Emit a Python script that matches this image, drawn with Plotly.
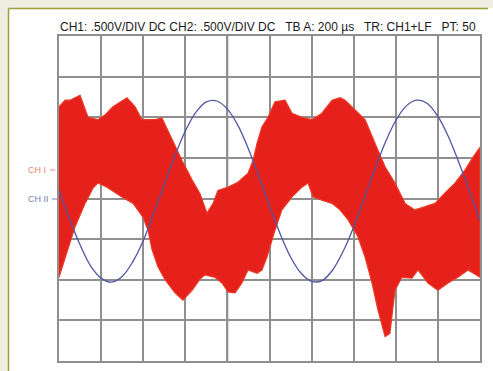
import plotly.graph_objects as go

# Oscilloscope capture: time in microseconds (200 us/div), amplitude in volts (0.5 V/div)

# CH2 - reference sine, sampled every 50 us
ch2_time = [0, 50, 100, 150, 200, 250, 300, 350, 400, 450, 500, 550, 600, 650, 700,
            750, 800, 850, 900, 950, 1000, 1050, 1100, 1150, 1200, 1250, 1300, 1350,
            1400, 1450, 1500, 1550, 1600, 1650, 1700, 1750, 1800, 1850, 1900, 1950, 2000]
ch2_volts = [0.10, -0.25, -0.57, -0.83, -0.98, -1.03, -0.96, -0.78, -0.52, -0.18, 0.17,
             0.52, 0.83, 1.06, 1.19, 1.20, 1.10, 0.90, 0.61, 0.27, -0.09, -0.43, -0.72,
             -0.92, -1.02, -1.01, -0.88, -0.65, -0.35, 0.00, 0.36, 0.69, 0.96, 1.14, 1.21,
             1.17, 1.01, 0.76, 0.44, 0.09, -0.27]

# CH1 - modulated carrier, drawn as its upper and lower envelope
ch1_upper_time = [0, 29, 52, 100, 138, 185, 219, 256, 323, 361, 394, 456, 489, 537, 584,
                  632, 670, 703, 732, 755, 803, 850, 898, 922, 941, 964, 993, 1026, 1074,
                  1107, 1154, 1202, 1249, 1297, 1335, 1359, 1406, 1454, 1501, 1549, 1596,
                  1644, 1691, 1739, 1786, 1834, 1881, 1929, 1967, 2000]
ch1_upper_volts = [1.13, 1.21, 1.21, 1.27, 1.00, 0.97, 1.03, 1.13, 1.24, 1.13, 0.97, 0.97,
                   0.99, 0.72, 0.47, 0.23, 0.06, -0.18, -0.06, 0.10, 0.14, 0.20, 0.31, 0.47,
                   0.68, 0.88, 1.00, 1.19, 1.21, 1.05, 1.00, 0.97, 1.05, 1.21, 1.24, 1.21,
                   1.09, 0.97, 0.68, 0.39, 0.19, -0.06, -0.14, -0.10, -0.06, 0.07, 0.19,
                   0.35, 0.51, 0.63]
ch1_lower_time = [0, 29, 76, 124, 162, 185, 228, 299, 352, 399, 423, 442, 470, 504, 551,
                  589, 632, 670, 694, 741, 774, 803, 836, 869, 898, 941, 964, 988, 1026,
                  1059, 1107, 1154, 1183, 1207, 1249, 1297, 1335, 1373, 1420, 1454, 1487,
                  1515, 1549, 1572, 1596, 1629, 1677, 1705, 1753, 1800, 1848, 1895, 1943, 2000]
ch1_lower_volts = [-0.97, -0.72, -0.35, -0.06, 0.13, 0.19, 0.14, 0.02, -0.06, -0.23, -0.39,
                   -0.63, -0.84, -1.00, -1.16, -1.25, -1.13, -0.99, -0.94, -0.97, -1.04,
                   -1.15, -1.16, -1.04, -0.88, -0.92, -0.88, -0.72, -0.39, -0.14, 0.02, 0.14,
                   0.19, 0.02, -0.02, -0.06, -0.14, -0.26, -0.47, -0.72, -1.04, -1.37, -1.70,
                   -1.66, -1.13, -0.97, -0.98, -0.88, -1.04, -1.13, -1.04, -0.97, -0.88, -0.97]

header = "CH1: .500V/DIV DC CH2: .500V/DIV DC   TB A: 200 µs   TR: CH1+LF   PT: 50"

RED = "#e6211b"
BLUE = "#4f57a3"
GRID = "#8f8f8f"

fig = go.Figure()

# CH1 band: upper envelope left-to-right, then lower envelope back
band_t = ch1_upper_time + ch1_lower_time[::-1]
band_v = ch1_upper_volts + ch1_lower_volts[::-1]
fig.add_trace(go.Scatter(x=band_t, y=band_v, mode="lines", fill="toself",
                         fillcolor=RED, line=dict(color="#ea3a26", width=1.2),
                         hoverinfo="skip", showlegend=False))

fig.add_trace(go.Scatter(x=ch2_time, y=ch2_volts, mode="lines",
                         line=dict(color=BLUE, width=1.3, shape="spline"),
                         hoverinfo="skip", showlegend=False))

L, R, T, B = 59, 13, 36, 10
W, H = 493, 371
pw, ph = W - L - R, H - T - B


def px(x):
    return (x - L) / pw


def py(y):
    return (H - B - y) / ph


shapes = [
    # beige frame strips and olive border
    dict(type="rect", xref="paper", yref="paper", x0=px(0), x1=px(8), y0=py(H), y1=py(0),
         fillcolor="#eeeee2", line=dict(width=0), layer="below"),
    dict(type="rect", xref="paper", yref="paper", x0=px(0), x1=px(W), y0=py(8), y1=py(0),
         fillcolor="#eeeee2", line=dict(width=0), layer="below"),
    dict(type="line", xref="paper", yref="paper", x0=px(8.5), x1=px(8.5), y0=py(H), y1=py(8.5),
         line=dict(color="#a0a03a", width=1.5)),
    dict(type="line", xref="paper", yref="paper", x0=px(8.5), x1=px(488), y0=py(8.5), y1=py(8.5),
         line=dict(color="#a0a03a", width=1.5)),
    # dark cursor lines
    dict(type="line", xref="x", yref="paper", x0=800, x1=800, y0=0, y1=1,
         line=dict(color="#2e2e2e", width=1.5), layer="below"),
    dict(type="line", xref="paper", yref="y", x0=0, x1=1, y0=-1.0, y1=-1.0,
         line=dict(color="#2e2e2e", width=1.5), layer="below"),
    # channel ground markers
    dict(type="line", xref="paper", yref="paper", x0=px(50), x1=px(55), y0=py(170), y1=py(170),
         line=dict(color="#e8866a", width=1)),
    dict(type="line", xref="paper", yref="paper", x0=px(52), x1=px(57), y0=py(199), y1=py(199),
         line=dict(color="#7a80b4", width=1)),
]

annotations = [
    dict(text=header, xref="paper", yref="paper", x=px(58), y=py(27), xanchor="left",
         yanchor="middle", showarrow=False,
         font=dict(family="Liberation Sans, Arial", size=12, color="#1a1a1a")),
    dict(text="CH I", xref="paper", yref="paper", x=px(48), y=py(170), xanchor="right",
         yanchor="middle", showarrow=False,
         font=dict(family="Liberation Sans, Arial", size=9, color="#e8866a")),
    dict(text="CH II", xref="paper", yref="paper", x=px(51), y=py(199), xanchor="right",
         yanchor="middle", showarrow=False,
         font=dict(family="Liberation Sans, Arial", size=9, color="#7a80b4")),
]

fig.update_layout(
    width=W, height=H,
    margin=dict(l=L, r=R, t=T, b=B, pad=0),
    paper_bgcolor="white", plot_bgcolor="white",
    shapes=shapes, annotations=annotations,
    xaxis=dict(range=[0, 2000], dtick=200, tick0=0, showgrid=True, gridcolor=GRID,
               gridwidth=1.5, zeroline=False, showticklabels=False, ticks="",
               showline=True, linecolor=GRID, linewidth=1.5, mirror=True, fixedrange=True),
    yaxis=dict(range=[-2, 2], dtick=0.5, tick0=0, showgrid=True, gridcolor=GRID,
               gridwidth=1.5, zeroline=False, showticklabels=False, ticks="",
               showline=True, linecolor=GRID, linewidth=1.5, mirror=True, fixedrange=True),
)

fig.write_html("out.html", config={"displayModeBar": False})
